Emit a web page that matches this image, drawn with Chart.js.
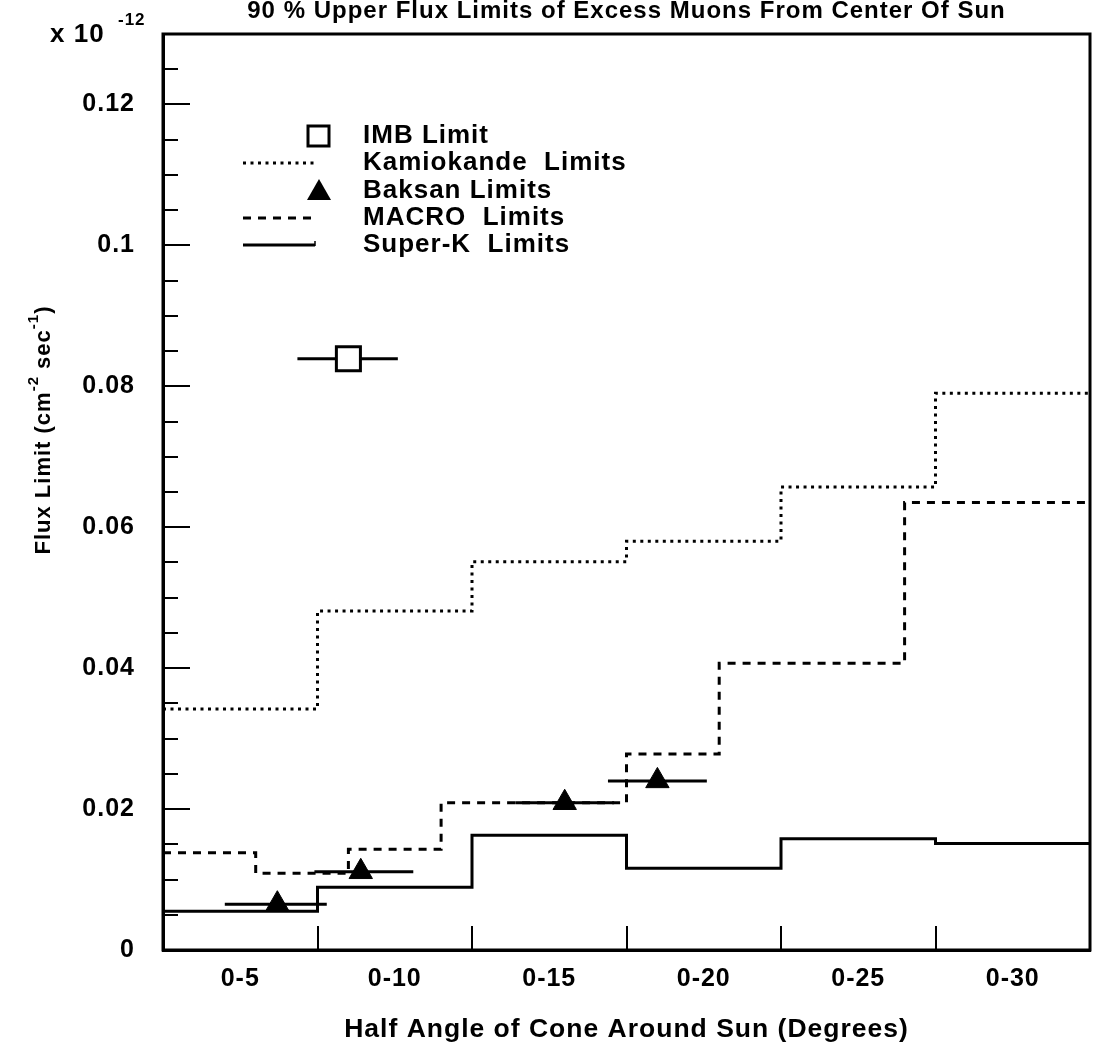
<!DOCTYPE html>
<html>
<head>
<meta charset="utf-8">
<title>90 % Upper Flux Limits of Excess Muons From Center Of Sun</title>
<script src="https://cdn.jsdelivr.net/npm/chart.js@4.4.1/dist/chart.umd.min.js"></script>
<style>
  html, body { margin: 0; padding: 0; background: #fff; }
  #wrap { width: 1094px; height: 1056px; }
</style>
</head>
<body>
<div id="wrap"><canvas id="fluxChart"></canvas></div>
<script>
// Flux limits in units of 1e-12 cm^-2 s^-1, x axis = cone half angle in degrees
// Step histograms: value holds from its left edge to the next edge
const kamioEdges = [2.5, 7.5, 12.5, 17.5, 22.5, 27.5, 32.5];
const kamioFlux = [0.0342, 0.0481, 0.0551, 0.0580, 0.0657, 0.0790, 0.0790];

const macroEdges = [2.5, 5.5, 8.5, 11.5, 17.5, 20.5, 26.5, 32.5];
const macroFlux = [0.0138, 0.0109, 0.0143, 0.0209, 0.0278, 0.0407, 0.0635, 0.0635];

const superkEdges = [2.5, 7.5, 12.5, 17.5, 22.5, 27.5, 32.5];
const superkFlux = [0.0055, 0.0089, 0.0163, 0.0116, 0.0158, 0.0151, 0.0151];

// Baksan points with horizontal error bars
const baksanAngle = [6.2, 8.9, 15.5, 18.5];
const baksanLow = [4.5, 7.4, 13.9, 16.9];
const baksanHigh = [7.8, 10.6, 17.1, 20.1];
const baksanFlux = [0.0065, 0.0111, 0.0209, 0.0240];

// IMB single limit
const imbAngle = [8.5];
const imbLow = [6.85];
const imbHigh = [10.1];
const imbFlux = [0.0839];

// x axis: category labels sit at 5,10,...,30, tick marks at the bin boundaries
const angleLabelPos = [5, 10, 15, 20, 25, 30];
const angleLabels = ['0-5', '0-10', '0-15', '0-20', '0-25', '0-30'];
const binBoundaries = [7.5, 12.5, 17.5, 22.5, 27.5];

const FONT = "'Liberation Sans', Arial, Helvetica, sans-serif";
Chart.defaults.font.family = FONT;
Chart.defaults.font.weight = 'bold';
Chart.defaults.color = '#000';

function stepPoints(edges, flux) {
  return edges.map((x, i) => ({ x: x, y: flux[i] }));
}

function markerPoints(xs, ys) {
  return xs.map((x, i) => ({ x: x, y: ys[i] }));
}

// each bar is two points followed by a gap
function errorBarPoints(lo, hi, ys) {
  const pts = [];
  ys.forEach((y, i) => {
    pts.push({ x: lo[i], y: y }, { x: hi[i], y: y }, { x: hi[i], y: null });
  });
  return pts;
}

function isMajorY(v) {
  return Math.abs(v * 50 - Math.round(v * 50)) < 1e-6;
}

// the scanned original uses a wide bold face, a little letter spacing gets close
const spacingPlugin = {
  id: 'spacing',
  beforeUpdate(chart) { chart.ctx.letterSpacing = '1px'; },
  beforeDraw(chart) { chart.ctx.letterSpacing = '1px'; }
};

// frame round the plot + the hand placed texts (exponent, y title, legend)
const extrasPlugin = {
  id: 'extras',
  afterDraw(chart) {
    const ctx = chart.ctx;
    const a = chart.chartArea;
    ctx.save();
    ctx.strokeStyle = '#000';
    ctx.fillStyle = '#000';
    ctx.lineWidth = 3;
    ctx.strokeRect(a.left, a.top, a.right - a.left, a.bottom - a.top);

    // exponent
    ctx.textBaseline = 'middle';
    ctx.textAlign = 'left';
    ctx.font = 'bold 26px ' + FONT;
    ctx.fillText('x 10', 50, 35);
    ctx.font = 'bold 17px ' + FONT;
    ctx.fillText('-12', 118, 20);

    // y axis title with superscripts
    const parts = [
      ['Flux Limit (cm', false], ['-2', true], [' sec', false], ['-1', true], [')', false]
    ];
    const big = 'bold 22px ' + FONT;
    const small = 'bold 15px ' + FONT;
    let total = 0;
    parts.forEach(p => { ctx.font = p[1] ? small : big; total += ctx.measureText(p[0]).width; });
    ctx.translate(44, 430);
    ctx.rotate(-Math.PI / 2);
    let x = -total / 2;
    parts.forEach(p => {
      ctx.font = p[1] ? small : big;
      ctx.fillText(p[0], x, p[1] ? -10 : 0);
      x += ctx.measureText(p[0]).width;
    });
    ctx.setTransform(1, 0, 0, 1, 0, 0);

    // legend
    const rows = [136, 163, 191, 218, 245];
    const names = ['IMB Limit', 'Kamiokande  Limits', 'Baksan Limits', 'MACRO  Limits', 'Super-K  Limits'];
    ctx.font = 'bold 26px ' + FONT;
    names.forEach((n, i) => ctx.fillText(n, 363, rows[i]));

    ctx.lineWidth = 3;
    ctx.strokeRect(308, rows[0] - 10, 21, 20);

    ctx.beginPath();
    ctx.moveTo(319, rows[2] - 12);
    ctx.lineTo(331, rows[2] + 9);
    ctx.lineTo(307, rows[2] + 9);
    ctx.closePath();
    ctx.fill();

    const lineRows = [[rows[1], [3, 4.5]], [rows[3], [8, 7]], [rows[4], []]];
    lineRows.forEach(r => {
      ctx.setLineDash(r[1]);
      ctx.beginPath();
      ctx.moveTo(243, r[0]);
      ctx.lineTo(315, r[0]);
      ctx.stroke();
    });
    ctx.setLineDash([]);
    ctx.lineWidth = 1.5;
    ctx.beginPath();
    ctx.moveTo(315, rows[4] - 4);
    ctx.lineTo(315, rows[4] + 1);
    ctx.stroke();
    ctx.restore();
  }
};

const ctx = document.getElementById('fluxChart').getContext('2d');

new Chart(ctx, {
  type: 'line',
  data: {
    datasets: [
      {
        label: 'IMB Limit',
        data: markerPoints(imbAngle, imbFlux),
        showLine: false,
        pointStyle: 'rect',
        pointRadius: 17,
        pointBackgroundColor: '#fff',
        pointBorderColor: '#000',
        pointBorderWidth: 3
      },
      {
        label: 'Baksan Limits',
        data: markerPoints(baksanAngle, baksanFlux),
        showLine: false,
        pointStyle: 'triangle',
        pointRadius: 13.5,
        pointBackgroundColor: '#000',
        pointBorderColor: '#000',
        pointBorderWidth: 1
      },
      {
        label: 'IMB range',
        data: errorBarPoints(imbLow, imbHigh, imbFlux),
        borderColor: '#000',
        borderWidth: 3,
        pointRadius: 0,
        spanGaps: false
      },
      {
        label: 'Baksan range',
        data: errorBarPoints(baksanLow, baksanHigh, baksanFlux),
        borderColor: '#000',
        borderWidth: 3,
        pointRadius: 0,
        spanGaps: false
      },
      {
        label: 'Super-K Limits',
        data: stepPoints(superkEdges, superkFlux),
        stepped: true,
        borderColor: '#000',
        borderWidth: 3,
        pointRadius: 0
      },
      {
        label: 'MACRO Limits',
        data: stepPoints(macroEdges, macroFlux),
        stepped: true,
        borderColor: '#000',
        borderWidth: 3,
        borderDash: [8, 7],
        pointRadius: 0
      },
      {
        label: 'Kamiokande Limits',
        data: stepPoints(kamioEdges, kamioFlux),
        stepped: true,
        borderColor: '#000',
        borderWidth: 3,
        borderDash: [3, 4.5],
        pointRadius: 0
      }
    ]
  },
  options: {
    responsive: true,
    maintainAspectRatio: false,
    animation: false,
    events: [],
    layout: { autoPadding: false, padding: { top: 0, right: 4, bottom: 0, left: 0 } },
    plugins: {
      legend: { display: false },
      tooltip: { enabled: false },
      title: {
        display: true,
        fullSize: false,
        text: '90 % Upper Flux Limits of Excess Muons From Center Of Sun',
        font: { size: 24, weight: 'bold' },
        color: '#000',
        padding: { top: -3.4, bottom: 8.6 }
      }
    },
    scales: {
      x: {
        type: 'linear',
        min: 2.5,
        max: 32.5,
        afterBuildTicks: scale => {
          scale.ticks = angleLabelPos.concat(binBoundaries).sort((a, b) => a - b).map(v => ({ value: v }));
        },
        afterFit: scale => {
          scale.height = 106;
          scale.paddingLeft = 0;
          scale.paddingRight = 0;
        },
        ticks: {
          autoSkip: false,
          maxRotation: 0,
          padding: 14,
          font: { size: 25 },
          callback: value => {
            const i = angleLabelPos.indexOf(value);
            return i >= 0 ? angleLabels[i] : '';
          }
        },
        grid: {
          drawTicks: false,
          lineWidth: 2,
          color: c => (c.tick && binBoundaries.includes(c.tick.value)) ? '#000' : 'rgba(0,0,0,0)'
        },
        border: {
          display: true,
          width: 3,
          color: '#000',
          // grid lines run top->bottom: keep only the last 24px as an inward tick
          dash: c => {
            const a = c.chart.chartArea;
            if (!c.tick || !a) return [];
            return [0, a.bottom - a.top - 24, 24, 5000];
          }
        },
        title: {
          display: true,
          text: 'Half Angle of Cone Around Sun (Degrees)',
          font: { size: 26.5, weight: 'bold' },
          padding: { top: 0, bottom: 10 }
        }
      },
      y: {
        min: 0,
        max: 0.13,
        afterFit: scale => {
          scale.width = 163;
          scale.paddingTop = 0;
          scale.paddingBottom = 0;
        },
        ticks: {
          stepSize: 0.005,
          autoSkip: false,
          padding: 28,
          font: { size: 25 },
          callback: value => isMajorY(value) ? String(Math.round(value * 100) / 100) : ''
        },
        grid: {
          drawTicks: false,
          lineWidth: 2,
          color: '#000'
        },
        border: {
          display: true,
          width: 3,
          color: '#000',
          // grid lines run left->right: short inward tick marks only
          dash: c => c.tick ? [isMajorY(c.tick.value) ? 25 : 13, 5000] : []
        }
      }
    }
  },
  plugins: [spacingPlugin, extrasPlugin]
});
</script>
</body>
</html>
